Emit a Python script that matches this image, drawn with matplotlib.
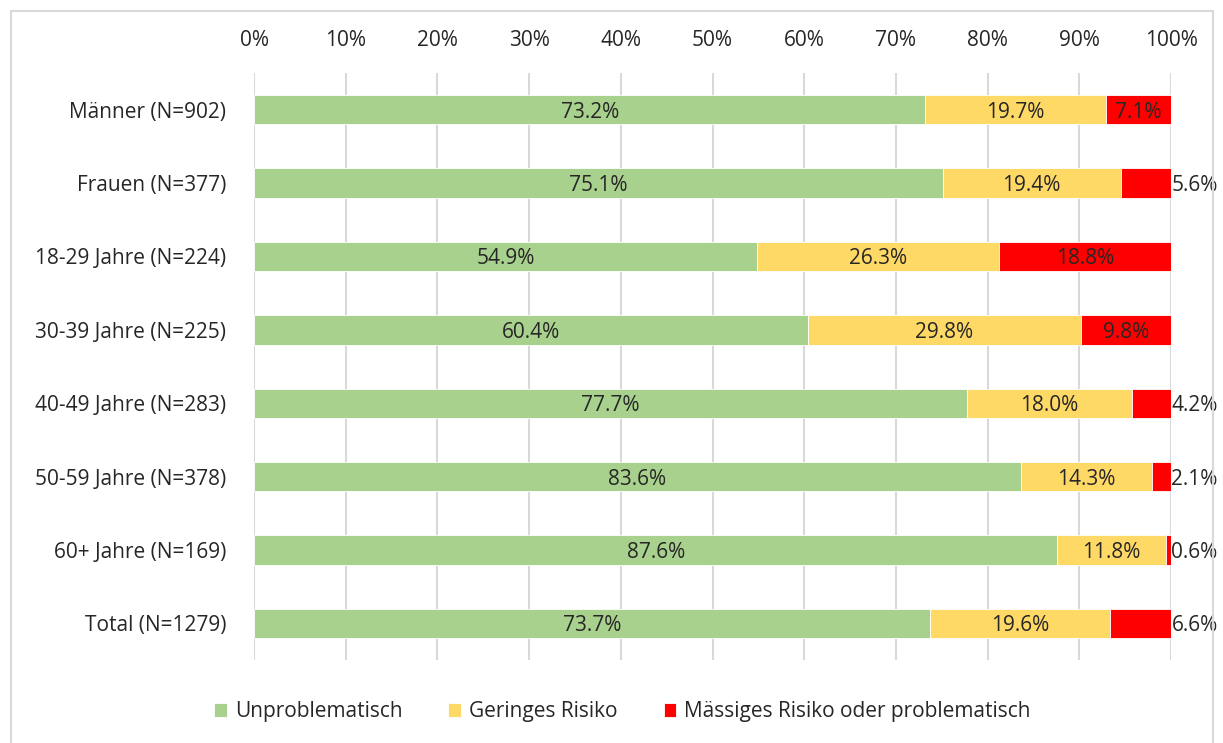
import numpy as np
import matplotlib
matplotlib.use("Agg")
import matplotlib.pyplot as plt
from matplotlib.patches import Rectangle
from matplotlib.ticker import PercentFormatter

categories = ["Männer (N=902)", "Frauen (N=377)", "18-29 Jahre (N=224)",
              "30-39 Jahre (N=225)", "40-49 Jahre (N=283)", "50-59 Jahre (N=378)",
              "60+ Jahre (N=169)", "Total (N=1279)"]
unproblematisch = [73.2, 75.1, 54.9, 60.4, 77.7, 83.6, 87.6, 73.7]
geringes_risiko = [19.7, 19.4, 26.3, 29.8, 18.0, 14.3, 11.8, 19.6]
maessiges_risiko = [7.1, 5.6, 18.8, 9.8, 4.2, 2.1, 0.6, 6.6]
series_names = ["Unproblematisch", "Geringes Risiko",
                "Mässiges Risiko oder problematisch"]

C_GREEN = "#A9D18E"
C_YELLOW = "#FFD966"
C_RED = "#FF0000"
C_TEXT = "#262626"
C_GRID = "#D9D9D9"

plt.rcParams["font.family"] = ["Open Sans", "DejaVu Sans"]
FS = 15

fig = plt.figure(figsize=(12.23, 7.43), dpi=100)
ax = fig.add_axes([0.2077, 0.1117, 0.7498, 0.79])

y = np.arange(len(categories))
series = [unproblematisch, geringes_risiko, maessiges_risiko]
colors = [C_GREEN, C_YELLOW, C_RED]
left = np.zeros(len(categories))
for vals, col, name in zip(series, colors, series_names):
    vals = np.array(vals)
    # last segment fills to 100 (rounding)
    if col == C_RED:
        vals = 100 - left
    ax.barh(y, vals, left=left, height=0.4, color=col, edgecolor="white",
            linewidth=0.6, label=name, zorder=2)
    left = left + vals

# value labels; small segments get their label outside the bar
left = np.zeros(len(categories))
for vals in series:
    for i, v in enumerate(vals):
        if v < 7.0:
            ax.text(100.05, y[i], f"{v:.1f}%", ha="left",
                    va="center_baseline", fontsize=FS, color=C_TEXT)
        else:
            ax.text(left[i] + v / 2, y[i], f"{v:.1f}%", ha="center",
                    va="center_baseline", fontsize=FS, color=C_TEXT, zorder=3)
    left = left + np.array(vals)

ax.set_xlim(0, 100)
ax.set_ylim(len(categories) - 0.5, -0.5)
ax.set_xticks(np.arange(0, 101, 10))
ax.xaxis.set_major_formatter(PercentFormatter(decimals=0))
ax.xaxis.tick_top()
ax.set_yticks(y)
ax.set_yticklabels(categories)
ax.tick_params(axis="x", length=0, pad=16, labelsize=FS, colors=C_TEXT)
ax.tick_params(axis="y", length=0, pad=20, labelsize=FS, colors=C_TEXT)
ax.grid(axis="x", color=C_GRID, lw=1.5, zorder=0)
ax.set_axisbelow(True)
for s in ax.spines.values():
    s.set_visible(False)

fig.legend(loc="center", bbox_to_anchor=(0.509, 0.042), ncol=3,
           frameon=False, fontsize=FS, handlelength=0.6, handleheight=0.7,
           handletextpad=0.4, columnspacing=2.2, labelcolor=C_TEXT)

# chart frame
fig.patches.append(Rectangle((11 / 1223, -0.01), 1202 / 1223, 1 - 11 / 743 + 0.01,
                             transform=fig.transFigure, fill=False,
                             edgecolor="#D9D9D9", lw=1.5))

fig.savefig("out.png", dpi=100)
